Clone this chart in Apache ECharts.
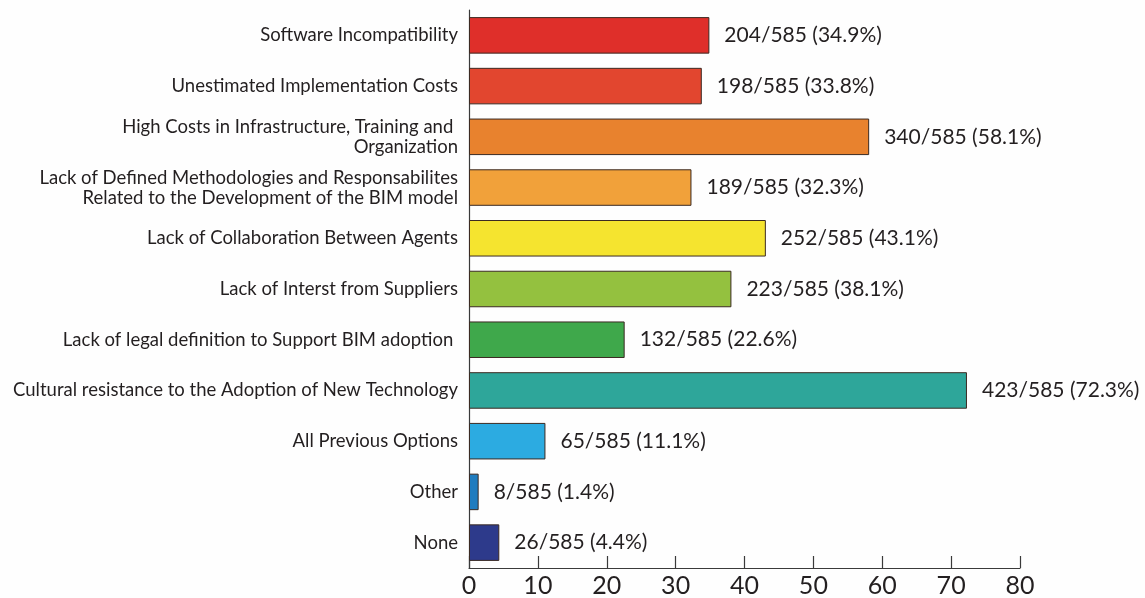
<!DOCTYPE html>
<html>
<head>
<meta charset="utf-8">
<script src="https://cdn.jsdelivr.net/npm/echarts@6/dist/echarts.min.js"></script>
<style>
  html, body { margin: 0; padding: 0; background: #fefefe; }
  #chart { width: 1145px; height: 598px; }
</style>
</head>
<body>
<div id="chart"></div>
<script>
// Barriers to BIM adoption: respondents per option (out of 585)
const categories = [
  'Software Incompatibility',
  'Unestimated Implementation Costs',
  'High Costs in Infrastructure, Training and \nOrganization',
  'Lack of Defined Methodologies and Responsabilites\nRelated to the Development of the BIM model',
  'Lack of Collaboration Between Agents',
  'Lack of Interst from Suppliers',
  'Lack of legal definition to Support BIM adoption ',
  'Cultural resistance to the Adoption of New Technology',
  'All Previous Options',
  'Other',
  'None'
];
const counts = [204, 198, 340, 189, 252, 223, 132, 423, 65, 8, 26];
const percents = [34.9, 33.8, 58.1, 32.3, 43.1, 38.1, 22.6, 72.3, 11.1, 1.4, 4.4];
const total = 585;
const barColors = [
  '#df2f2a', '#e2462f', '#e8822e', '#f1a13a', '#f5e42f', '#94c13f',
  '#3fa84b', '#2ea69a', '#2cabe1', '#1f7cbf', '#2d3a8b'
];
const xTicks = [0, 10, 20, 30, 40, 50, 60, 70, 80];

const chart = echarts.init(document.getElementById('chart'));
chart.setOption({
  backgroundColor: '#fefefe',
  animation: false,
  textStyle: { fontFamily: 'Lato, sans-serif' },
  grid: { left: 469, right: 125, top: 10, bottom: 30, containLabel: false },
  xAxis: {
    type: 'value',
    min: xTicks[0],
    max: xTicks[xTicks.length - 1],
    interval: 10,
    axisLine: { show: true, lineStyle: { color: '#3a3a3a', width: 1.2 } },
    axisTick: { show: true, inside: true, length: 12, lineStyle: { color: '#3a3a3a', width: 1.2 } },
    axisLabel: { color: '#231f20', fontSize: 25, margin: 5 },
    splitLine: { show: false }
  },
  yAxis: {
    type: 'category',
    inverse: true,
    data: categories,
    axisLine: { show: true, lineStyle: { color: '#3a3a3a', width: 1.2 } },
    axisTick: { show: false },
    axisLabel: {
      color: '#231f20',
      fontSize: 18.5,
      margin: 11,
      align: 'right',
      lineHeight: 20
    }
  },
  series: [{
    type: 'bar',
    data: percents.map((v, i) => ({
      value: v,
      itemStyle: { color: barColors[i] }
    })),
    barCategoryGap: '28%',
    itemStyle: { borderColor: '#3b2a22', borderWidth: 1 },
    label: {
      show: true,
      position: 'right',
      distance: 15,
      color: '#231f20',
      fontSize: 21,
      formatter: p => `${counts[p.dataIndex]}/${total} (${percents[p.dataIndex]}%)`
    }
  }]
});
</script>
</body>
</html>
